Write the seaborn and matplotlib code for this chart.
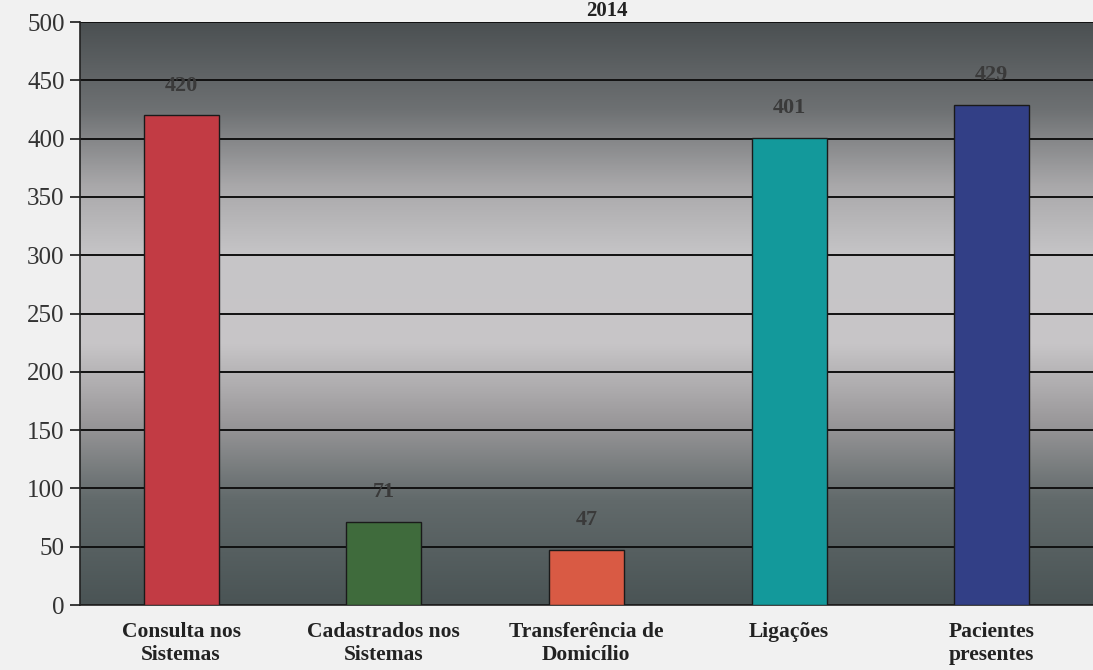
import numpy as np
import pandas as pd
import matplotlib
matplotlib.use("Agg")
import matplotlib.pyplot as plt
import seaborn as sns
from matplotlib.colors import LinearSegmentedColormap

categories = ["Consulta nos\nSistemas", "Cadastrados nos\nSistemas", "Transferência de\nDomicílio", "Ligações", "Pacientes\npresentes"]
values = [420, 71, 47, 401, 429]
colors = ["#C23B44", "#3F6B3C", "#D95A44", "#13999B", "#323F86"]
yticks = [0, 50, 100, 150, 200, 250, 300, 350, 400, 450, 500]
title = "2014"

sns.set_theme(style="white")
plt.rcParams['font.family'] = ['Liberation Serif', 'DejaVu Serif']

fig = plt.figure(figsize=(10.93, 6.70), dpi=100, facecolor="#f1f1f1")
ax = fig.add_axes([0.073, 0.097, 0.927, 0.870])

df = pd.DataFrame({"cat": categories, "val": values})
sns.barplot(data=df, x="cat", y="val", hue="cat", palette=colors, legend=False,
            width=0.37, edgecolor="#1a1a1a", linewidth=1.0, ax=ax, zorder=3, saturation=1)

ax.set_xlim(-0.5, 4.5)
ax.set_ylim(0, 500)

# gradient background
cmap = LinearSegmentedColormap.from_list("bg", [
    (0.0, "#4a5455"), (0.18, "#626a6b"), (0.32, "#9c9a9c"), (0.45, "#c8c6c8"),
    (0.6, "#c6c5c7"), (0.72, "#a9a8aa"), (0.85, "#6e7173"), (1.0, "#4b5052")])
grad = np.linspace(0, 1, 256).reshape(-1, 1)
ax.imshow(grad, aspect="auto", cmap=cmap, extent=(-0.5, 4.5, 500, 0), zorder=0)
ax.set_ylim(0, 500)

ax.set_yticks(yticks)
ax.yaxis.grid(True, color="#111111", linewidth=1.4, zorder=1)
ax.set_axisbelow(True)
for s in ["top", "right"]:
    ax.spines[s].set_visible(False)
ax.spines["left"].set_color("#222222")
ax.spines["bottom"].set_color("#222222")
ax.spines["left"].set_linewidth(1.2)
ax.spines["bottom"].set_linewidth(1.2)

ax.set_xticks(np.arange(len(categories)) - 0.5, minor=True)
ax.tick_params(axis="x", which="major", length=0, pad=12)
ax.tick_params(axis="x", which="minor", length=6, color="#222222", direction="out")
ax.tick_params(axis="y", length=7, color="#222222", direction="out", left=True, labelsize=18,
               labelcolor="#333333", pad=4)
ax.set_xticks(range(len(categories)))
ax.set_xticklabels(categories, fontsize=15.5, fontweight="bold", color="#222222", linespacing=1.25, va="top")
ax.set_xlabel("")
ax.set_ylabel("")

for i, v in enumerate(values):
    ax.text(i, v + 17, str(v), ha="center", va="bottom", fontsize=16, fontweight="bold", color="#3a3a3a", zorder=4)

fig.text(0.555, 0.999, title, ha="center", va="top", fontsize=15, fontweight="bold", color="#222222")

fig.savefig("out.png", dpi=100, facecolor=fig.get_facecolor())
